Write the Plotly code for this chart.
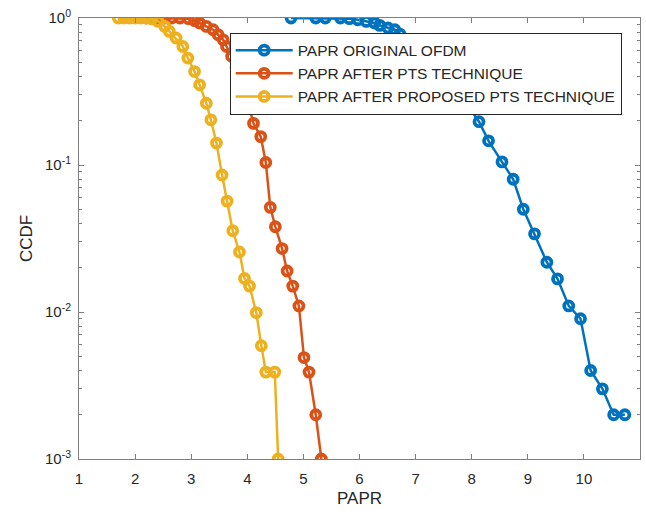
import plotly.graph_objects as go

# PAPR thresholds (dB) and CCDF values for each scheme
papr_original = [4.78, 5.22, 5.39, 5.66, 5.82, 5.97, 6.12, 6.27, 6.36, 6.51, 6.63, 6.72,
                 6.90, 7.10, 7.30, 7.50, 7.72, 7.93, 8.13, 8.30, 8.54, 8.74, 8.92, 9.12,
                 9.34, 9.53, 9.73, 9.94, 10.12, 10.33, 10.53, 10.73]
ccdf_original = [1.0, 1.0, 1.0, 1.0, 0.99, 0.973, 0.948, 0.925, 0.891, 0.855, 0.832, 0.778,
                 0.70, 0.60, 0.50, 0.41, 0.33, 0.256, 0.197, 0.146, 0.105, 0.080, 0.050, 0.034,
                 0.0218, 0.0168, 0.011, 0.009, 0.004, 0.003, 0.002, 0.002]

papr_pts = [2.20, 2.31, 2.42, 2.53, 2.65, 2.80, 2.95, 3.06, 3.15, 3.27, 3.39, 3.48, 3.57,
            3.63, 3.72, 3.80, 3.88, 3.96, 4.04, 4.11, 4.24, 4.33, 4.41, 4.50, 4.62, 4.71,
            4.81, 4.92, 5.01, 5.10, 5.22, 5.32]
ccdf_pts = [1.0, 1.0, 1.0, 1.0, 1.0, 1.0, 0.99, 0.96, 0.925, 0.877, 0.832, 0.769, 0.711,
            0.64, 0.55, 0.46, 0.38, 0.30, 0.243, 0.192, 0.156, 0.104, 0.0515, 0.038, 0.027,
            0.019, 0.015, 0.011, 0.0049, 0.0039, 0.002, 0.001]

papr_proposed = [1.70, 1.80, 1.90, 2.00, 2.10, 2.20, 2.30, 2.41, 2.53, 2.61, 2.73, 2.85,
                 2.94, 3.06, 3.15, 3.27, 3.35, 3.45, 3.55, 3.64, 3.74, 3.86, 3.95, 4.04,
                 4.16, 4.25, 4.33, 4.49, 4.55]
ccdf_proposed = [1.0, 1.0, 1.0, 1.0, 1.0, 1.0, 0.985, 0.948, 0.877, 0.811, 0.731, 0.640,
                 0.534, 0.432, 0.351, 0.263, 0.203, 0.141, 0.0855, 0.0568, 0.0357, 0.0256,
                 0.0169, 0.015, 0.0099, 0.0059, 0.0039, 0.0039, 0.001]

series = [
    ("PAPR ORIGINAL OFDM", papr_original, ccdf_original, "#0072BD"),
    ("PAPR AFTER PTS TECHNIQUE", papr_pts, ccdf_pts, "#D95319"),
    ("PAPR AFTER PROPOSED PTS TECHNIQUE", papr_proposed, ccdf_proposed, "#EDB120"),
]

x_ticks = list(range(1, 12))
y_ticks = [1e-3, 1e-2, 1e-1, 1]
y_ticktext = ["10<sup>-3</sup>", "10<sup>-2</sup>", "10<sup>-1</sup>", "10<sup>0</sup>"]
y_minor = [m * 10.0 ** e for e in (-3, -2, -1) for m in range(2, 10)]

fig = go.Figure()
for name, xs, ys, color in series:
    fig.add_trace(go.Scatter(
        x=xs, y=ys, name=name, mode="lines+markers",
        line=dict(color=color, width=2.5),
        marker=dict(symbol="circle-open", size=9, color=color,
                    line=dict(color=color, width=3.8)),
    ))

axis_color = "#808080"
text_color = "#262626"
font_family = "Liberation Sans, Arial, sans-serif"

fig.update_layout(
    width=646, height=515,
    margin=dict(l=79, r=6, t=18, b=56),
    paper_bgcolor="white", plot_bgcolor="white",
    font=dict(family=font_family, size=15, color=text_color),
    showlegend=True,
    legend=dict(
        x=0.2686, y=0.967, xanchor="left", yanchor="top",
        bgcolor="white", bordercolor=text_color, borderwidth=1,
        font=dict(size=15.5, color=text_color),
        itemwidth=57, tracegroupgap=0,
    ),
    xaxis=dict(
        range=[1, 11], tickvals=x_ticks, ticks="inside", ticklen=5,
        tickcolor=axis_color, showline=True, linecolor=axis_color, linewidth=1,
        mirror="ticks", showgrid=False, zeroline=False,
        tickfont=dict(size=15, color=text_color), ticklabelstandoff=6,
        title=dict(text="PAPR", font=dict(size=17, color=text_color), standoff=6),
    ),
    yaxis=dict(
        type="log", range=[-3, 0], tickvals=y_ticks, ticktext=y_ticktext,
        ticks="inside", ticklen=5, tickcolor=axis_color,
        showline=True, linecolor=axis_color, linewidth=1,
        mirror="ticks", showgrid=False, zeroline=False,
        tickfont=dict(size=15, color=text_color), ticklabelstandoff=4,
        minor=dict(tickvals=y_minor, ticks="inside", ticklen=3, tickcolor=axis_color),
        title=dict(text="CCDF", font=dict(size=17, color=text_color), standoff=8),
    ),
)

fig.write_html("out.html")
